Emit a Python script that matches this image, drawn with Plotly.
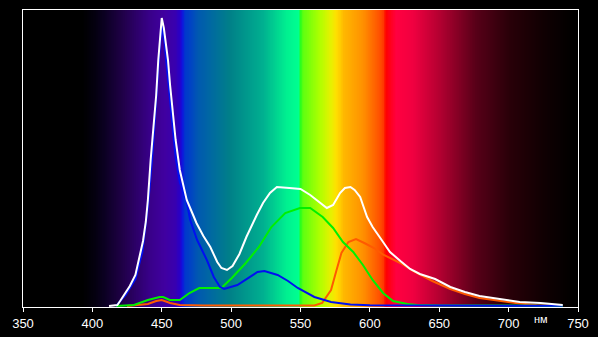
import numpy as np
import plotly.graph_objects as go

# Wavelength ticks (nm)
tick_vals = [350, 400, 450, 500, 550, 600, 650, 700, 750]

# White (total) spectrum: wavelength (nm) and relative intensity
white_nm = [412, 418, 420, 424, 427, 431, 434, 436.5, 438.5, 440, 442, 444.5, 446, 447.5, 449, 450,
            451.5, 453, 454.5, 456, 458, 460, 463, 466, 468, 472, 475, 480, 485, 490, 493, 497,
            501, 506, 511, 518.5, 523, 528, 533, 542, 550, 557, 564, 569, 573.5, 578.5, 582,
            586, 589, 593, 598, 602, 609.5, 614.5, 622, 629, 636, 647, 658, 668.5, 679, 694,
            708, 723, 739]
white_val = [1, 2, 6, 14, 21, 32, 50, 66, 85, 107, 147, 187, 212, 247, 272, 289,
             279, 262, 247, 222, 197, 167, 137, 117, 107, 94, 84, 71, 60, 45, 39, 37,
             41, 53, 70, 92, 104, 114, 120, 119, 118, 112, 104, 99, 102, 114, 119,
             120, 117, 110, 90, 80, 65, 55, 46, 38, 33, 28, 20, 15, 11, 8,
             5, 4, 2]

# Blue channel
blue_nm = [417, 424, 431, 436, 440, 443, 446, 448, 450, 452, 454, 456, 458, 460, 463, 466, 468,
           470.5, 475.5, 482.5, 487.5, 492, 495, 504.5, 512, 519, 524, 533.5, 541, 548, 560,
           572, 586, 600, 650, 700, 739]
blue_val = [1, 12, 28, 55, 100, 147, 207, 250, 281, 265, 235, 205, 177, 150, 125, 112, 105,
            87, 67, 47, 30, 20, 18, 22, 29, 35, 36, 32, 26, 19, 10,
            5, 2.5, 1.8, 1.5, 1.5, 1.2]

# Green channel
green_nm = [417, 430, 440, 445, 448.5, 451, 455.8, 463, 470, 477, 486, 493, 500.5, 510.6, 520,
            529, 539, 549.6, 557, 566, 573.5, 580.6, 588, 595, 602, 609.5, 616.7, 627, 634,
            650, 700, 739]
green_val = [1, 2, 7, 9, 10, 10, 7, 7, 14, 19, 19, 19, 29, 44, 60,
             80, 94, 99, 99, 90, 79, 65, 55, 42, 27, 14, 6, 3, 2,
             1.5, 1.5, 1]

# Red channel
red_nm = [425, 435, 440, 446, 450, 456, 463, 480, 520, 560, 565.6, 572, 576, 579.5, 584.5, 590,
          596, 603, 610, 622, 631, 645, 658, 668.5, 679, 694, 708, 720, 739]
red_val = [1, 2, 3, 6, 7, 4, 2, 1.5, 1.5, 1.5, 4, 17, 37, 54, 65, 68,
           64, 59, 52, 44, 36, 26, 18, 13, 9, 6, 3.5, 2, 1]

# Background spectrum colours (wavelength nm -> colour)
bg_nm = [350, 393, 402, 408, 422, 441, 452, 460, 463, 464.5, 467, 472, 476, 486, 499, 523, 540,
         548.5, 549.6, 552, 564, 572, 575.6, 578, 581, 595, 607, 609.5, 611.5, 615, 619, 631,
         651, 676, 701, 725, 744, 750]
bg_col = ['#000000', '#000000', '#040010', '#0a0020', '#200048', '#380088', '#4000a0', '#3800b0',
          '#2800c8', '#1010e0', '#0038cc', '#0048c0', '#0058b0', '#006aa0', '#008088', '#00b090',
          '#00f090', '#00ff90', '#20ff20', '#60ff10', '#b0ff00', '#e8f000', '#ffe000', '#ffd000',
          '#ffb800', '#ff9000', '#ff5000', '#ff3800', '#ff0000', '#ff0020', '#ff0040', '#f00040',
          '#b00030', '#580018', '#280008', '#100002', '#020000', '#000000']

colorscale = [[(w - 350) / 400, c] for w, c in zip(bg_nm, bg_col)]
bg_x = np.arange(350, 750.01, 0.5)
bg_z = [list(bg_x), list(bg_x)]

fig = go.Figure()
fig.add_trace(go.Heatmap(x=bg_x, y=[0, 1], z=bg_z, colorscale=colorscale, zmin=350, zmax=750,
                         showscale=False, hoverinfo='skip', xaxis='x', yaxis='y'))

line_w = 2
fig.add_trace(go.Scatter(x=red_nm, y=red_val, mode='lines', line=dict(color='#ff5a00', width=line_w),
                         xaxis='x', yaxis='y2', showlegend=False))
fig.add_trace(go.Scatter(x=green_nm, y=green_val, mode='lines', line=dict(color='#00f000', width=line_w),
                         xaxis='x', yaxis='y2', showlegend=False))
fig.add_trace(go.Scatter(x=blue_nm, y=blue_val, mode='lines', line=dict(color='#0010f0', width=line_w),
                         xaxis='x', yaxis='y2', showlegend=False))
fig.add_trace(go.Scatter(x=white_nm, y=white_val, mode='lines', line=dict(color='#ffffff', width=line_w),
                         xaxis='x', yaxis='y2', showlegend=False))

fig.update_layout(
    width=598, height=337,
    margin=dict(l=23, r=20, t=10, b=30),
    paper_bgcolor='#000000', plot_bgcolor='#000000',
    showlegend=False,
    xaxis=dict(range=[350, 750], tickvals=tick_vals, ticks='outside', ticklen=4, tickcolor='#ffffff',
               tickwidth=1, showline=True, linecolor='#ffffff', linewidth=1, mirror=True,
               showgrid=False, zeroline=False, automargin=False,
               tickfont=dict(family='Liberation Sans, Arial', size=13, color='#ffffff')),
    yaxis=dict(range=[0, 1], showticklabels=False, ticks='', showgrid=False, zeroline=False,
               showline=True, linecolor='#ffffff', linewidth=1, mirror=True, automargin=False),
    yaxis2=dict(range=[0, 297], overlaying='y', showticklabels=False, ticks='', showgrid=False,
                zeroline=False, showline=False),
    annotations=[dict(text='нм', x=(541 - 23) / 555, y=(307 - 319) / 297, xref='paper', yref='paper',
                      showarrow=False, xanchor='center', yanchor='middle',
                      font=dict(family='Liberation Sans, Arial', size=11, color='#ffffff'))],
)

fig.write_html('out.html', config={'displayModeBar': False},
               post_script="document.body.style.margin='0';document.body.style.overflow='hidden';"
                           "document.body.style.background='#000';")
